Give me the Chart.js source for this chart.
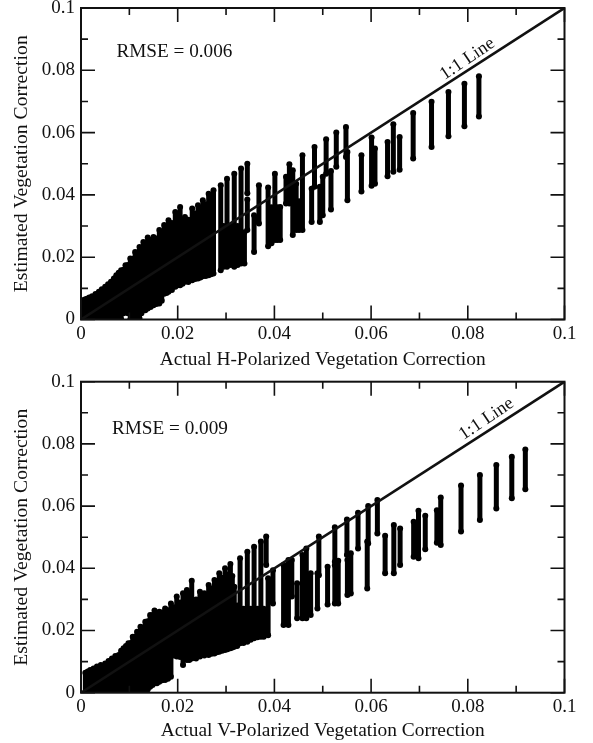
<!DOCTYPE html>
<html>
<head>
<meta charset="utf-8">
<title>Vegetation correction</title>
<script src="https://cdn.jsdelivr.net/npm/chart.js@4/dist/chart.umd.min.js"></script>
<style>
  html, body { margin: 0; padding: 0; background: #fff; }
  #wrap { position: relative; width: 593px; height: 743px; overflow: hidden; }
  canvas { position: absolute; left: 0; }
</style>
</head>
<body>
<div id="wrap">
  <canvas id="topChart" width="593" height="372" style="top:0"></canvas>
  <canvas id="bottomChart" width="593" height="371" style="top:372px"></canvas>
</div>
<script>
const majorTicks = [0, 0.02, 0.04, 0.06, 0.08, 0.1]
const minorTicks = [0.01, 0.03, 0.05, 0.07, 0.09]
const tickLabels = ['0', '0.02', '0.04', '0.06', '0.08', '0.1']
const lineX = [0, 0.1]
const lineY = [0, 0.1]

// each column of dots is read as x, lowest y, highest y
const hX = [0.0004, 0.0012, 0.0023, 0.0037, 0.005, 0.0062, 0.0073, 0.0083, 0.0092, 0.0102, 0.0112, 0.0121, 0.0129, 0.0138, 0.015, 0.0162, 0.0172, 0.0181, 0.0195, 0.0205, 0.0215, 0.023, 0.0242, 0.0252, 0.0264, 0.0274, 0.0289, 0.0302, 0.0317, 0.0331, 0.0344, 0.0344, 0.0358, 0.0368, 0.0387, 0.0401, 0.0412, 0.0424, 0.0431, 0.0438, 0.0445, 0.0458, 0.0477, 0.0483, 0.0494, 0.05, 0.0507, 0.0517, 0.0528, 0.0548, 0.0551, 0.058, 0.0601, 0.0608, 0.0634, 0.0646, 0.0659, 0.0687, 0.0725, 0.076, 0.0793, 0.0823]
const hLow = [0, 0, 0, 0, 0, 0, 0, 0, 0.003, 0, 0, 0.0003, 0.003, 0.0035, 0.0046, 0.0051, 0.0083, 0.0089, 0.0105, 0.011, 0.0121, 0.0126, 0.0132, 0.0139, 0.0142, 0.0148, 0.0158, 0.0169, 0.0169, 0.018, 0.0287, 0.0405, 0.0217, 0.0308, 0.0235, 0.0255, 0.0255, 0.0372, 0.0372, 0.0271, 0.0287, 0.0287, 0.0313, 0.0426, 0.0313, 0.0335, 0.0468, 0.0353, 0.049, 0.0522, 0.0383, 0.0411, 0.0429, 0.0436, 0.046, 0.0474, 0.0481, 0.0517, 0.0554, 0.0588, 0.062, 0.0652]
const hHigh = [0.0062, 0.0067, 0.0075, 0.0089, 0.0105, 0.0121, 0.0142, 0.0158, 0.0174, 0.0196, 0.0217, 0.0233, 0.0249, 0.0263, 0.0265, 0.0287, 0.0303, 0.0319, 0.0345, 0.0361, 0.0329, 0.0356, 0.0367, 0.0383, 0.0404, 0.0415, 0.0431, 0.0452, 0.0468, 0.0485, 0.0385, 0.05, 0.0335, 0.0431, 0.0424, 0.0468, 0.0361, 0.0458, 0.0498, 0.0479, 0.0436, 0.0527, 0.042, 0.0554, 0.0426, 0.0458, 0.0579, 0.0477, 0.06, 0.0618, 0.0538, 0.0527, 0.0584, 0.0549, 0.057, 0.0627, 0.0586, 0.0663, 0.0699, 0.073, 0.0757, 0.0781]
// columns packed inside the solid part of the cloud
const hDenseX = [0.0008, 0.0017, 0.003, 0.0043, 0.0056, 0.0068, 0.0078, 0.0088, 0.0097, 0.0107, 0.0117, 0.0125, 0.0133, 0.0144, 0.0156, 0.0167, 0.0177, 0.0188, 0.02, 0.021, 0.0222, 0.0236, 0.0247, 0.0258, 0.0269, 0.0295, 0.031, 0.0324, 0.0338, 0.0394, 0.0406, 0.0451]
const hDenseLow = [0, 0, 0, 0, 0, 0, 0, 0.002, 0.002, 0.002, 0.001, 0.002, 0.003, 0.004, 0.005, 0.006, 0.0085, 0.0095, 0.011, 0.0115, 0.012, 0.013, 0.0135, 0.014, 0.0145, 0.0169, 0.0175, 0.0175, 0.018, 0.0245, 0.0255, 0.0287]
const hDenseHigh = [0.0064, 0.0071, 0.0082, 0.0097, 0.0113, 0.0132, 0.015, 0.016, 0.0175, 0.0195, 0.0215, 0.023, 0.0245, 0.0255, 0.026, 0.0275, 0.029, 0.031, 0.033, 0.031, 0.032, 0.034, 0.0355, 0.037, 0.039, 0.03, 0.03, 0.03, 0.028, 0.036, 0.036, 0.038]

const vX = [0.0009, 0.0019, 0.0033, 0.005, 0.0064, 0.0078, 0.0088, 0.0098, 0.0107, 0.0116, 0.0123, 0.0133, 0.0143, 0.0152, 0.0162, 0.0174, 0.0186, 0.0198, 0.0211, 0.0219, 0.0229, 0.0246, 0.0264, 0.0276, 0.0286, 0.0298, 0.0309, 0.0317, 0.0329, 0.0344, 0.0358, 0.0372, 0.0383, 0.0387, 0.0397, 0.0419, 0.0429, 0.0436, 0.0447, 0.0458, 0.0466, 0.0475, 0.0489, 0.0492, 0.051, 0.0525, 0.0525, 0.0532, 0.055, 0.0551, 0.0558, 0.0573, 0.0592, 0.0594, 0.0613, 0.0629, 0.0647, 0.066, 0.0688, 0.0698, 0.0712, 0.0736, 0.0744, 0.0786, 0.0825, 0.0859, 0.0891, 0.0919]
const vLow = [0, 0, 0, 0, 0, 0, 0, 0, 0, 0, 0, 0, 0.0019, 0.003, 0.0035, 0.0041, 0.0051, 0.0116, 0.0089, 0.0105, 0.011, 0.0116, 0.0121, 0.0126, 0.0132, 0.0137, 0.0143, 0.0148, 0.0159, 0.0164, 0.0175, 0.018, 0.0411, 0.0185, 0.0287, 0.0218, 0.0218, 0.0309, 0.0239, 0.0239, 0.0239, 0.025, 0.0271, 0.0378, 0.0284, 0.0421, 0.0287, 0.0287, 0.0443, 0.0314, 0.0319, 0.0464, 0.0335, 0.048, 0.0512, 0.0384, 0.0384, 0.0411, 0.0437, 0.0432, 0.0461, 0.0482, 0.0475, 0.0518, 0.0555, 0.0592, 0.0625, 0.0654]
const vHigh = [0.0064, 0.0073, 0.0084, 0.0094, 0.011, 0.0121, 0.0143, 0.0159, 0.018, 0.0196, 0.0212, 0.0228, 0.025, 0.0264, 0.026, 0.0271, 0.0287, 0.0309, 0.032, 0.033, 0.036, 0.0325, 0.0346, 0.0362, 0.0384, 0.04, 0.0414, 0.0341, 0.0432, 0.0453, 0.0469, 0.0486, 0.0502, 0.0368, 0.0394, 0.0411, 0.0427, 0.0427, 0.0352, 0.0443, 0.0464, 0.0384, 0.0384, 0.0502, 0.0405, 0.0532, 0.041, 0.0424, 0.0557, 0.0427, 0.0448, 0.0579, 0.0486, 0.06, 0.062, 0.0505, 0.0539, 0.0528, 0.055, 0.0585, 0.0569, 0.0587, 0.0628, 0.0666, 0.07, 0.0732, 0.0759, 0.0782]
const vDenseX = [0.0014, 0.0026, 0.0041, 0.0057, 0.0071, 0.0083, 0.0093, 0.0103, 0.0112, 0.012, 0.0128, 0.0138, 0.0148, 0.0157, 0.0168, 0.018, 0.0192, 0.0205, 0.0224, 0.0238, 0.0255, 0.027, 0.0281, 0.0292, 0.0303, 0.0313, 0.0323, 0.0336, 0.0351, 0.0365, 0.0378]
const vDenseLow = [0, 0, 0, 0, 0, 0, 0.001, 0.001, 0, 0, 0, 0.001, 0.0025, 0.003, 0.004, 0.0045, 0.012, 0.0115, 0.0105, 0.011, 0.012, 0.0125, 0.013, 0.0135, 0.014, 0.0145, 0.015, 0.016, 0.017, 0.0178, 0.018]
const vDenseHigh = [0.0068, 0.0078, 0.0089, 0.0102, 0.0118, 0.0135, 0.015, 0.016, 0.018, 0.0195, 0.021, 0.023, 0.025, 0.0255, 0.0258, 0.0265, 0.0275, 0.029, 0.032, 0.03, 0.032, 0.0335, 0.0355, 0.037, 0.038, 0.0375, 0.028, 0.027, 0.027, 0.027, 0.027]

const serif = '"Liberation Serif", "Times New Roman", serif'
const ink = '#111'

// frame, inward ticks and the two text notes
const framePlugin = {
  id: 'frame',
  afterDatasetsDraw(chart, args, opts) {
    const { ctx, chartArea: a, scales: { x, y } } = chart
    ctx.save()
    ctx.strokeStyle = ink
    ctx.lineWidth = 1.6
    const mark = (list, len) => {
      list.forEach(v => {
        const px = x.getPixelForValue(v)
        const py = y.getPixelForValue(v)
        ctx.beginPath()
        ctx.moveTo(px, a.bottom); ctx.lineTo(px, a.bottom - len)
        ctx.moveTo(px, a.top); ctx.lineTo(px, a.top + len)
        ctx.moveTo(a.left, py); ctx.lineTo(a.left + len, py)
        ctx.moveTo(a.right, py); ctx.lineTo(a.right - len, py)
        ctx.stroke()
      })
    }
    mark(majorTicks, 14)
    mark(minorTicks, 7)
    ctx.lineWidth = 2
    ctx.strokeRect(a.left, a.top, a.right - a.left, a.bottom - a.top)

    ctx.fillStyle = ink
    ctx.font = '19.2px ' + serif
    ctx.textBaseline = 'middle'
    ctx.textAlign = 'left'
    ctx.fillText(opts.rmse, opts.rmseX, opts.rmseY)
    ctx.font = '18.4px ' + serif
    ctx.translate(opts.lineX, opts.lineY)
    ctx.rotate(-34 * Math.PI / 180)
    ctx.textAlign = 'center'
    ctx.fillText('1:1 Line', 0, 0)
    ctx.restore()
  }
}

function columnPoints(xs, lows, highs) {
  const pts = []
  xs.forEach((x, i) => {
    pts.push({ x: x, y: lows[i] }, { x: x, y: highs[i] }, { x: x, y: null })
  })
  return pts
}

function makeChart(id, xs, lows, highs, xTitle, top, bottom, titleGap, note) {
  const canvas = document.getElementById(id)
  return new Chart(canvas, {
    type: 'scatter',
    data: {
      datasets: [{
        data: lineX.map((x, i) => ({ x: x, y: lineY[i] })),
        showLine: true,
        borderColor: ink,
        borderWidth: 2.6,
        pointRadius: 0
      }, {
        data: columnPoints(xs, lows, highs),
        showLine: true,
        spanGaps: false,
        stepped: true, // keeps the columns exactly vertical
        borderColor: '#000',
        borderWidth: 5,
        pointRadius: 3,
        pointBorderWidth: 0,
        pointBackgroundColor: '#000'
      }]
    },
    plugins: [framePlugin],
    options: {
      responsive: false,
      animation: false,
      layout: { padding: { top: top, right: 28.5, left: 0, bottom: 0 } },
      plugins: { legend: { display: false }, tooltip: { enabled: false }, frame: note },
      scales: {
        x: {
          type: 'linear', min: 0, max: 0.1,
          grid: { display: false, drawTicks: false },
          border: { display: false },
          afterBuildTicks: s => { s.ticks = majorTicks.map(v => ({ value: v })) },
          afterFit: s => { s.height = canvas.height - bottom; s.paddingLeft = 0; s.paddingRight = 0 },
          ticks: {
            autoSkip: false, maxRotation: 0, padding: 3, color: ink,
            font: { family: serif, size: 19 },
            callback: (v, i) => tickLabels[i]
          },
          title: {
            display: true, text: xTitle, color: ink, padding: { top: titleGap, bottom: 0 },
            font: { family: serif, size: 19.4, lineHeight: 1.2 }
          }
        },
        y: {
          type: 'linear', min: 0, max: 0.1,
          grid: { display: false, drawTicks: false },
          border: { display: false },
          afterBuildTicks: s => { s.ticks = majorTicks.map(v => ({ value: v })) },
          afterFit: s => { s.width = 81; s.paddingTop = 0; s.paddingBottom = 0 },
          ticks: {
            autoSkip: false, padding: 6, color: ink,
            font: { family: serif, size: 19 },
            callback: (v, i) => tickLabels[i]
          },
          title: {
            display: true, text: 'Estimated Vegetation Correction', color: ink, padding: { top: 10, bottom: 0 },
            font: { family: serif, size: 19.7, lineHeight: 1.2 }
          }
        }
      }
    }
  })
}

makeChart('topChart', hX.concat(hDenseX), hLow.concat(hDenseLow), hHigh.concat(hDenseHigh),
  'Actual H-Polarized Vegetation Correction', 8, 319.5, 6.5,
  { rmse: 'RMSE = 0.006', rmseX: 116.5, rmseY: 52, lineX: 467.5, lineY: 59 })
makeChart('bottomChart', vX.concat(vDenseX), vLow.concat(vDenseLow), vHigh.concat(vDenseHigh),
  'Actual V-Polarized Vegetation Correction', 9.7, 320.7, 3.5,
  { rmse: 'RMSE = 0.009', rmseX: 112, rmseY: 57, lineX: 486.5, lineY: 47 })
</script>
</body>
</html>
